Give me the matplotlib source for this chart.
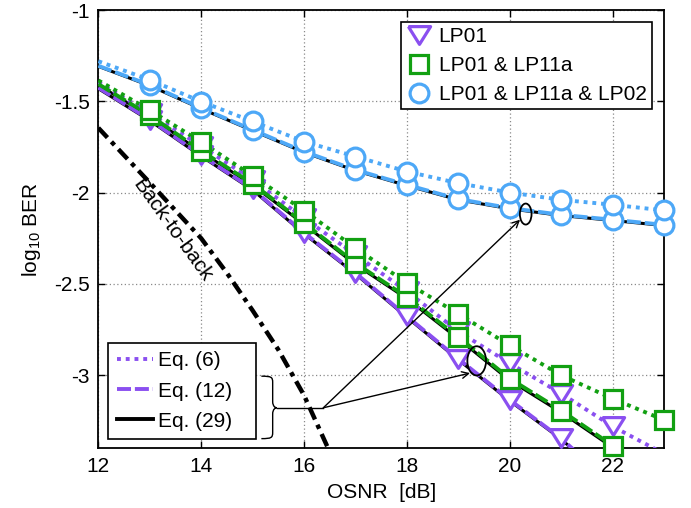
import numpy as np
import matplotlib
matplotlib.use('Agg')
import matplotlib.pyplot as plt
from matplotlib.patches import Ellipse, PathPatch, Rectangle
from matplotlib.path import Path
from matplotlib.lines import Line2D

plt.rcParams['font.family'] = ['Liberation Sans', 'DejaVu Sans']
plt.rcParams['axes.unicode_minus'] = False
plt.rcParams['mathtext.fontset'] = 'custom'
plt.rcParams['mathtext.rm'] = 'Liberation Sans'
plt.rcParams['font.size'] = 15

# ---------------- data ----------------
osnr = [12, 13, 14, 15, 16, 17, 18, 19, 20, 21, 22, 23]

# LP01 (purple)
lp01_eq6 = [-1.395, -1.565, -1.745, -1.930, -2.140, -2.340, -2.540, -2.760, -2.935, -3.100, -3.280, -3.430]
lp01_eq12 = [-1.425, -1.600, -1.795, -1.980, -2.220, -2.440, -2.677, -2.910, -3.135, -3.346, -3.600, -3.850]
lp01_eq29 = [-1.430, -1.605, -1.800, -1.985, -2.225, -2.445, -2.682, -2.915, -3.140, -3.350, -3.600, -3.850]

# LP01 & LP11a (green)
lp11_eq6 = [-1.385, -1.548, -1.722, -1.908, -2.098, -2.304, -2.494, -2.664, -2.836, -3.000, -3.128, -3.245]
lp11_eq12 = [-1.405, -1.576, -1.771, -1.951, -2.166, -2.386, -2.572, -2.791, -3.018, -3.193, -3.385, -3.580]
lp11_eq29 = [-1.410, -1.582, -1.778, -1.958, -2.173, -2.393, -2.580, -2.800, -3.028, -3.203, -3.395, -3.590]

# LP01 & LP11a & LP02 (blue)
lp02_eq6 = [-1.280, -1.382, -1.501, -1.610, -1.720, -1.802, -1.884, -1.948, -1.999, -2.039, -2.066, -2.097]
lp02_eq12 = [-1.305, -1.410, -1.536, -1.656, -1.775, -1.875, -1.957, -2.035, -2.084, -2.121, -2.148, -2.176]
lp02_eq29 = [-1.308, -1.414, -1.540, -1.660, -1.779, -1.879, -1.961, -2.039, -2.088, -2.125, -2.152, -2.180]

# back-to-back
b2b_osnr = [12, 13, 14, 14.5, 15, 15.5, 16, 16.5]
b2b_ber = [-1.645, -1.945, -2.250, -2.440, -2.645, -2.860, -3.110, -3.420]

mode_labels = ['LP01', 'LP01 & LP11a', 'LP01 & LP11a & LP02']
eq_labels = ['Eq. (6)', 'Eq. (12)', 'Eq. (29)']
b2b_label = 'Back-to-back'

xticks = [12, 14, 16, 18, 20, 22]
yticks = [-1, -1.5, -2, -2.5, -3]
ytick_labels = ['-1', '-1.5', '-2', '-2.5', '-3']
xlim = (12, 23)
ylim = (-3.4, -1)

# annotation geometry (data coords)
ell1 = (20.31, -2.117, 0.227, 0.115)
ell2 = (19.357, -2.921, 0.363, 0.160)
arrow_start = (16.375, -3.178)
arrow1_tip = (20.20, -2.148)
arrow2_tip = (19.227, -2.988)
brace_x0, brace_x1, brace_tip = 15.17, 15.39, 15.47
brace_top, brace_mid, brace_bot = -3.005, -3.178, -3.347

# ---------------- style ----------------
purple = '#8A4FF0'
green = '#12A012'
blue = '#4DA8F7'
lw = 2.8
dot_dash = (1.0, 1.25)
dash_dash = (3.6, 1.0)

tri_marker = [(-1, 0.8), (1, 0.8), (0, -0.8), (-1, 0.8)]

fig = plt.figure(figsize=(6.91, 5.08), dpi=100)
ax = fig.add_axes([0.1423, 0.1175, 0.8187, 0.8626])

series = [
    (lp01_eq6, lp01_eq12, lp01_eq29, purple, tri_marker, 16),
    (lp11_eq6, lp11_eq12, lp11_eq29, green, 's', 12.5),
    (lp02_eq6, lp02_eq12, lp02_eq29, blue, 'o', 13.5),
]

# lines
for e6, e12, e29, c, m, ms in series:
    ax.plot(osnr, e29, color='black', lw=2.2, zorder=3)
    ax.plot(osnr, e6, color=c, lw=lw, ls=(0, dot_dash), zorder=4)
    ax.plot(osnr, e12, color=c, lw=lw, ls=(0, dash_dash), zorder=4)

# markers
z = 5
for e6, e12, e29, c, m, ms in series:
    for vals in (e12, e6):
        xs = np.array(osnr[1:], dtype=float)
        ys = np.array(vals[1:], dtype=float)
        keep = ys > ylim[0] - 0.03
        ax.plot(xs[keep], ys[keep], ls='none', marker=m, ms=ms, mew=2.3,
                mec=c, mfc='white', clip_on=False, zorder=z)
        z += 0.1

# back-to-back
ax.plot(b2b_osnr, b2b_ber, color='black', lw=3.2, ls=(0, (3.0, 1.3, 1.0, 1.3)), zorder=3)
ax.text(13.43, -2.203, b2b_label, rotation=-54.3, ha='center', va='center',
        rotation_mode='anchor', fontsize=15, zorder=6)

# ellipses & arrows
for (cx, cy, w, h) in (ell1, ell2):
    ax.add_patch(Ellipse((cx, cy), w, h, fill=False, ec='black', lw=1.3, zorder=7))
for tip in (arrow1_tip, arrow2_tip):
    ax.annotate('', xy=tip, xytext=arrow_start,
                arrowprops=dict(arrowstyle='->', color='black', lw=1.0,
                                shrinkA=0, shrinkB=0, mutation_scale=12), zorder=7)
ax.plot([brace_tip, arrow_start[0]], [brace_mid, brace_mid], color='black', lw=1.0, zorder=7)

# brace
r = 0.035
verts = [
    (brace_x0, brace_top),
    (brace_x1 - 0.02, brace_top), (brace_x1, brace_top - 0.005), (brace_x1, brace_top - r),
    (brace_x1, brace_mid + r),
    (brace_x1, brace_mid + 0.005), (brace_tip - 0.02, brace_mid), (brace_tip, brace_mid),
    (brace_tip - 0.02, brace_mid), (brace_x1, brace_mid - 0.005), (brace_x1, brace_mid - r),
    (brace_x1, brace_bot + r),
    (brace_x1, brace_bot + 0.005), (brace_x1 - 0.02, brace_bot), (brace_x0, brace_bot),
]
codes = [Path.MOVETO,
         Path.CURVE4, Path.CURVE4, Path.CURVE4,
         Path.LINETO,
         Path.CURVE4, Path.CURVE4, Path.CURVE4,
         Path.CURVE4, Path.CURVE4, Path.CURVE4,
         Path.LINETO,
         Path.CURVE4, Path.CURVE4, Path.CURVE4]
ax.add_patch(PathPatch(Path(verts, codes), fill=False, ec='black', lw=1.0, zorder=7, clip_on=False))

# axes
ax.set_xlim(*xlim)
ax.set_ylim(*ylim)
ax.set_xticks(xticks)
ax.set_yticks(yticks)
ax.set_yticklabels(ytick_labels)
ax.tick_params(direction='in', top=True, right=True, length=5, width=1.0, labelsize=15, pad=6)
for s in ax.spines.values():
    s.set_linewidth(1.3)
ax.grid(True, color='#8a8a8a', ls=(0, (1, 2)), lw=0.9)
ax.set_axisbelow(True)
ax.set_xlabel('OSNR  [dB]', fontsize=15, labelpad=5)
ax.set_ylabel(r'$\mathregular{log_{10}}$ BER', fontsize=15, labelpad=8)

# legend 1 (modes)
h1 = [Line2D([], [], ls='none', marker=tri_marker, ms=16, mew=2.3, mec=purple, mfc='white'),
      Line2D([], [], ls='none', marker='s', ms=12.5, mew=2.3, mec=green, mfc='white'),
      Line2D([], [], ls='none', marker='o', ms=13.5, mew=2.3, mec=blue, mfc='white')]
leg1 = ax.legend(h1, mode_labels, loc='upper right', bbox_to_anchor=(0.978, 0.9735),
                 borderaxespad=0, frameon=True, fancybox=False, framealpha=1,
                 edgecolor='black', fontsize=15, handlelength=1.2, handletextpad=0.35,
                 labelspacing=0.48, borderpad=0.25)
leg1.get_frame().set_linewidth(1.2)
leg1.set_zorder(10)
ax.add_artist(leg1)

# legend 2 (equations) with a drawn frame
leg2_box = (0.0177, 0.0205, 0.2606, 0.2205)  # axes fraction: x, y, w, h
ax.add_patch(Rectangle(leg2_box[:2], leg2_box[2], leg2_box[3], transform=ax.transAxes,
                       fc='white', ec='black', lw=1.2, zorder=9, clip_on=False))
h2 = [Line2D([], [], color=purple, lw=lw, ls=(0, dot_dash)),
      Line2D([], [], color=purple, lw=lw, ls=(0, dash_dash)),
      Line2D([], [], color='black', lw=lw)]
leg2 = ax.legend(h2, eq_labels, loc='lower left', bbox_to_anchor=(leg2_box[0], leg2_box[1]),
                 borderaxespad=0, frameon=False, fontsize=15, handlelength=1.7,
                 handletextpad=0.25, labelspacing=0.53, borderpad=0.42)
leg2.set_zorder(10)

fig.savefig('out.png', dpi=100)
